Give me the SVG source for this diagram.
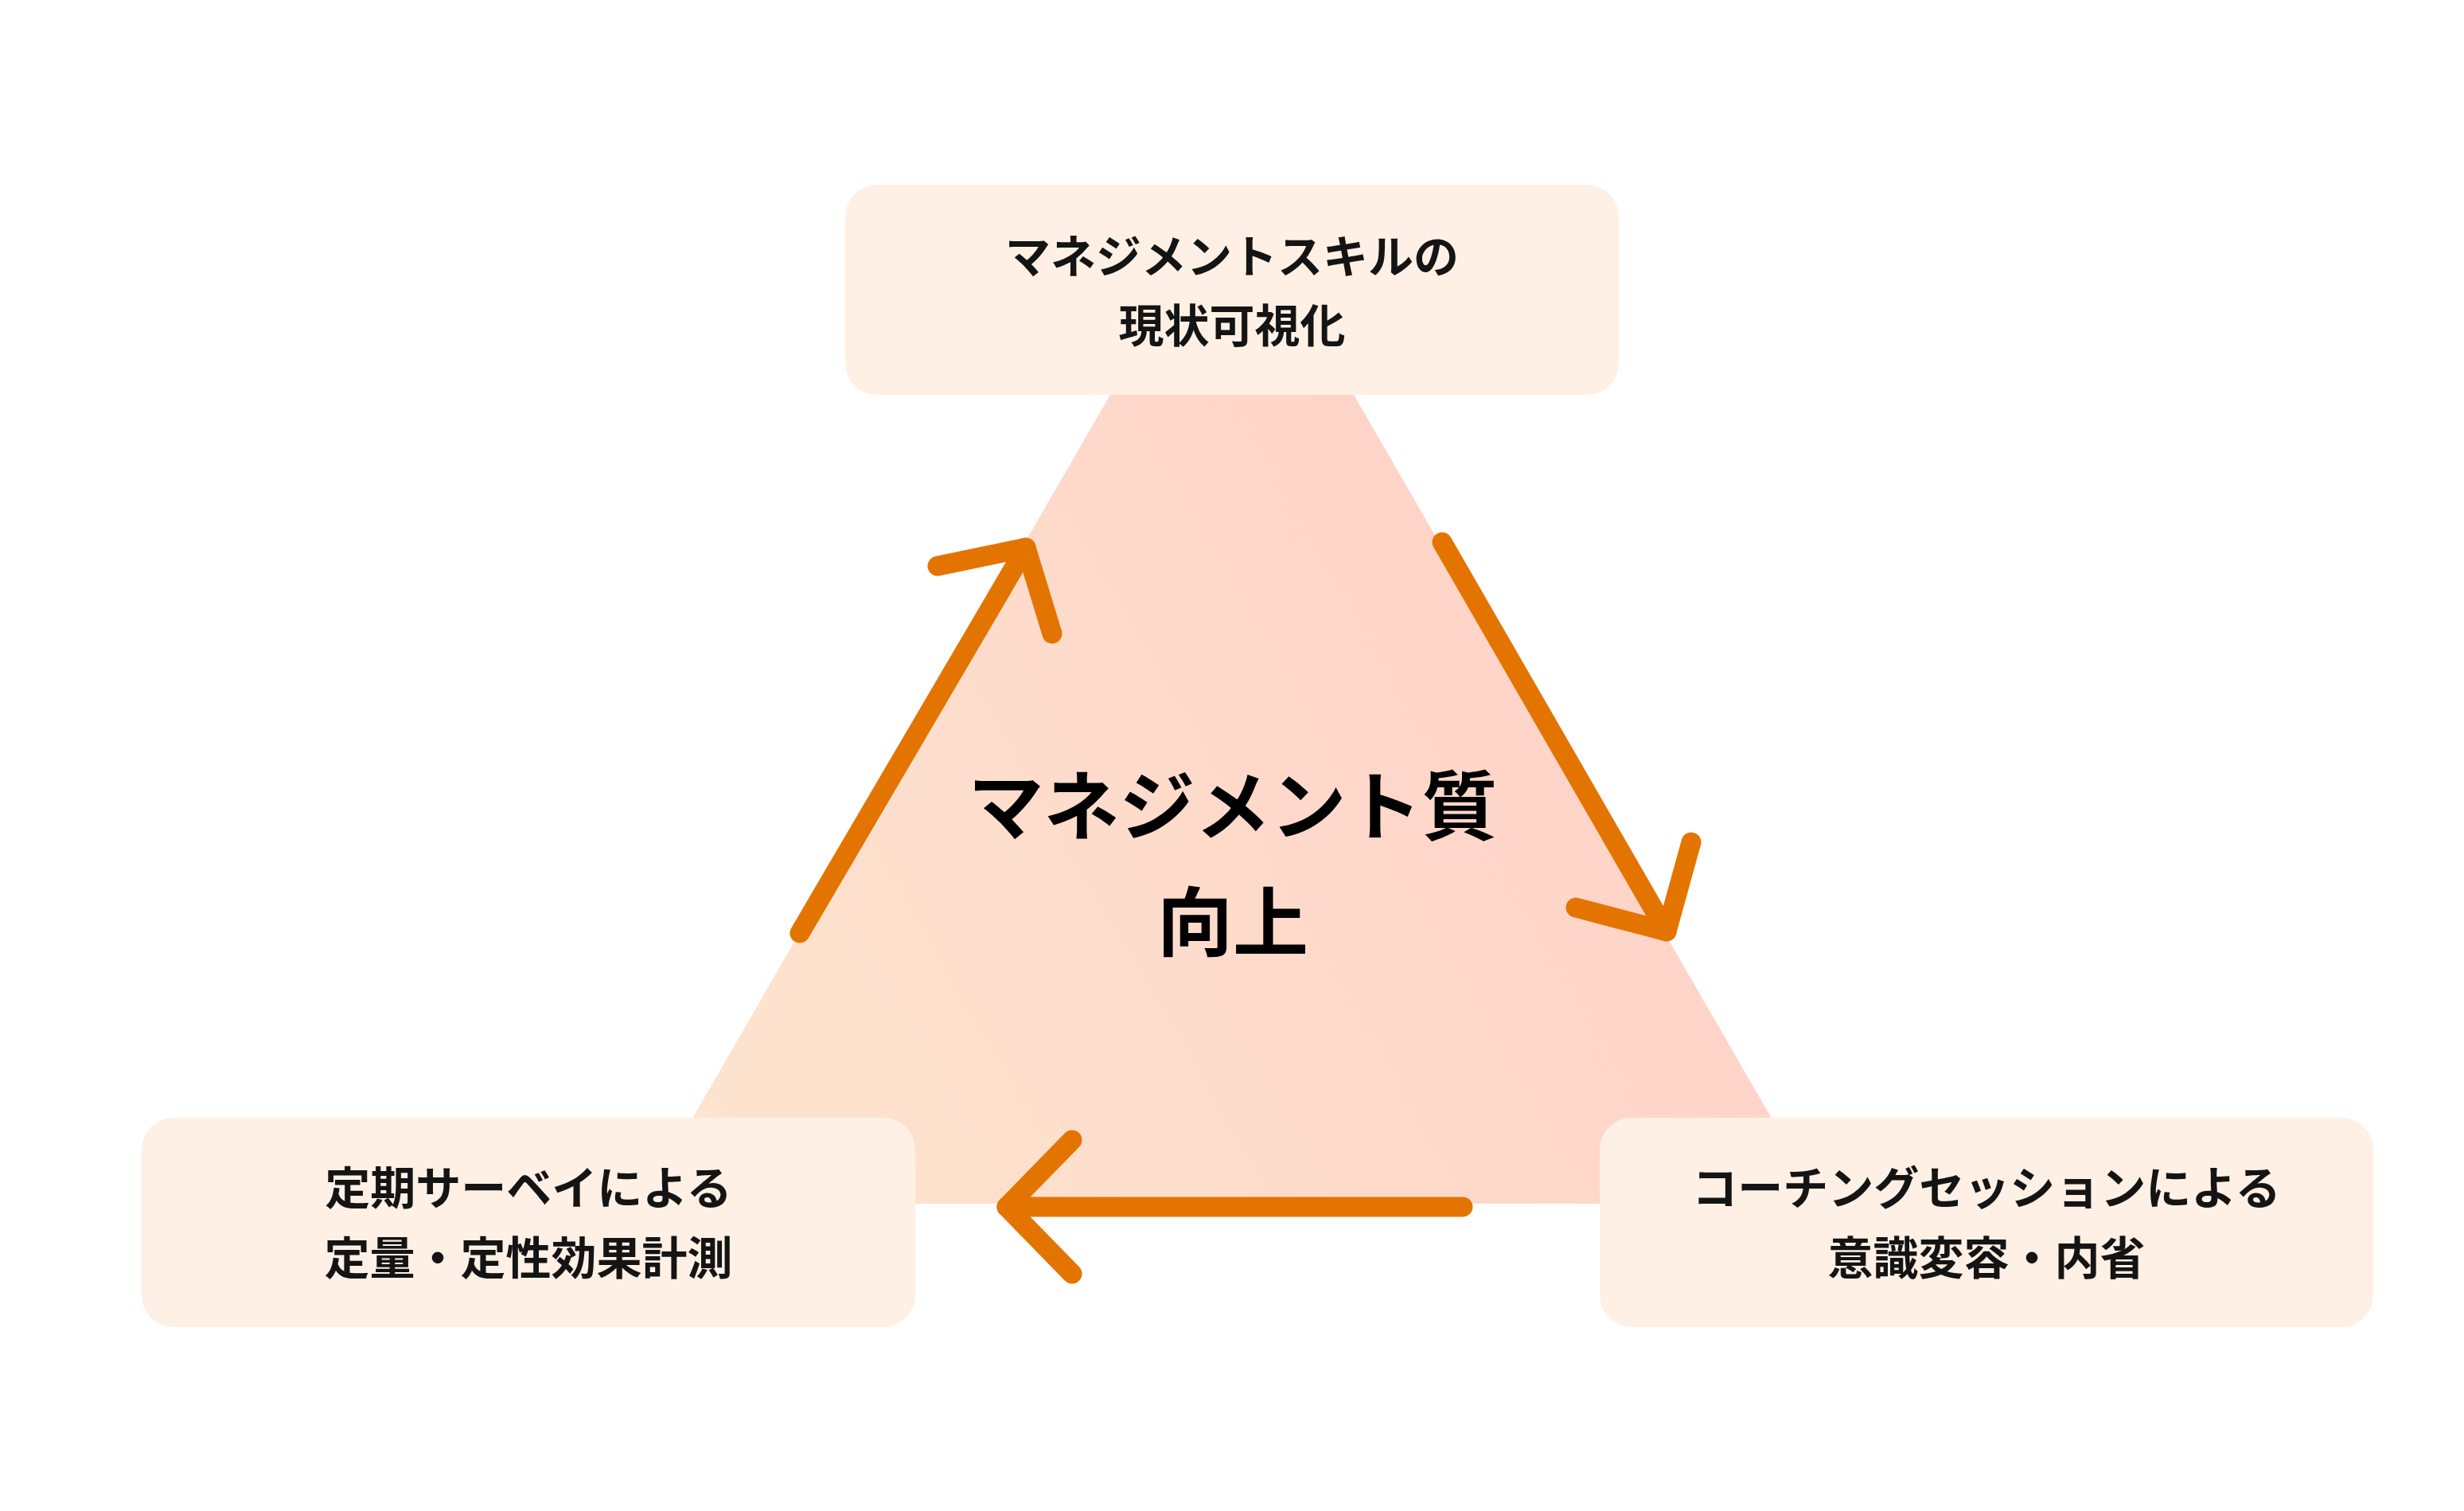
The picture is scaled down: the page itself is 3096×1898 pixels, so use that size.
<svg xmlns="http://www.w3.org/2000/svg" width="3096" height="1898" viewBox="0 0 3096 1898">
  <defs>
    <linearGradient id="triGrad" x1="0" y1="0.8" x2="1" y2="0.3">
      <stop offset="0" stop-color="#FDE4CE"/>
      <stop offset="1" stop-color="#FFCEC7"/>
    </linearGradient>
    <style>
      .box { fill: #FEF0E4; }
      .lbl { font-family: "Noto Sans CJK JP", "Noto Sans", sans-serif; font-weight: 700; font-size: 57px; fill: #141414; text-anchor: middle; dominant-baseline: central; }
      .center { font-family: "Noto Sans CJK JP", "Noto Sans", sans-serif; font-weight: 700; font-size: 95px; fill: #000000; text-anchor: middle; dominant-baseline: central; }
      .arrow { fill: none; stroke: #E47400; stroke-width: 25; stroke-linecap: round; stroke-linejoin: round; }
    </style>
  </defs>
  <rect width="3096" height="1898" fill="#FFFFFF"/>

  <g id="triangle">
    <polygon points="1548,231 2288,1512 808,1512" fill="url(#triGrad)"/>
    <text class="center" x="1549" y="1006">マネジメント質</text>
    <text class="center" x="1549" y="1152">向上</text>
  </g>

  <g id="connectors">
    <g id="arrow-left">
      <line class="arrow" x1="1005" y1="1172" x2="1289" y2="688"/>
      <polyline class="arrow" points="1178,711 1289,688 1322,796"/>
    </g>
    <g id="arrow-right">
      <line class="arrow" x1="1812" y1="681" x2="2094" y2="1170"/>
      <polyline class="arrow" points="1980,1140 2094,1170 2125,1058"/>
    </g>
    <g id="arrow-bottom">
      <line class="arrow" x1="1838" y1="1516" x2="1265" y2="1516"/>
      <polyline class="arrow" points="1347,1432 1265,1516 1347,1600"/>
    </g>
  </g>

  <g id="node-top">
    <rect class="box" x="1062" y="232" width="972" height="264" rx="40" ry="40"/>
    <text class="lbl" x="1548" y="318">マネジメントスキルの</text>
    <text class="lbl" x="1548" y="405">現状可視化</text>
  </g>

  <g id="node-left">
    <rect class="box" x="178" y="1404" width="972" height="263" rx="40" ry="40"/>
    <text class="lbl" x="664" y="1488">定期サーベイによる</text>
    <text class="lbl" x="664" y="1576">定量・定性効果計測</text>
  </g>

  <g id="node-right">
    <rect class="box" x="2010" y="1404" width="972" height="263" rx="40" ry="40"/>
    <text class="lbl" x="2496" y="1488">コーチングセッションによる</text>
    <text class="lbl" x="2496" y="1576">意識変容・内省</text>
  </g>
</svg>
